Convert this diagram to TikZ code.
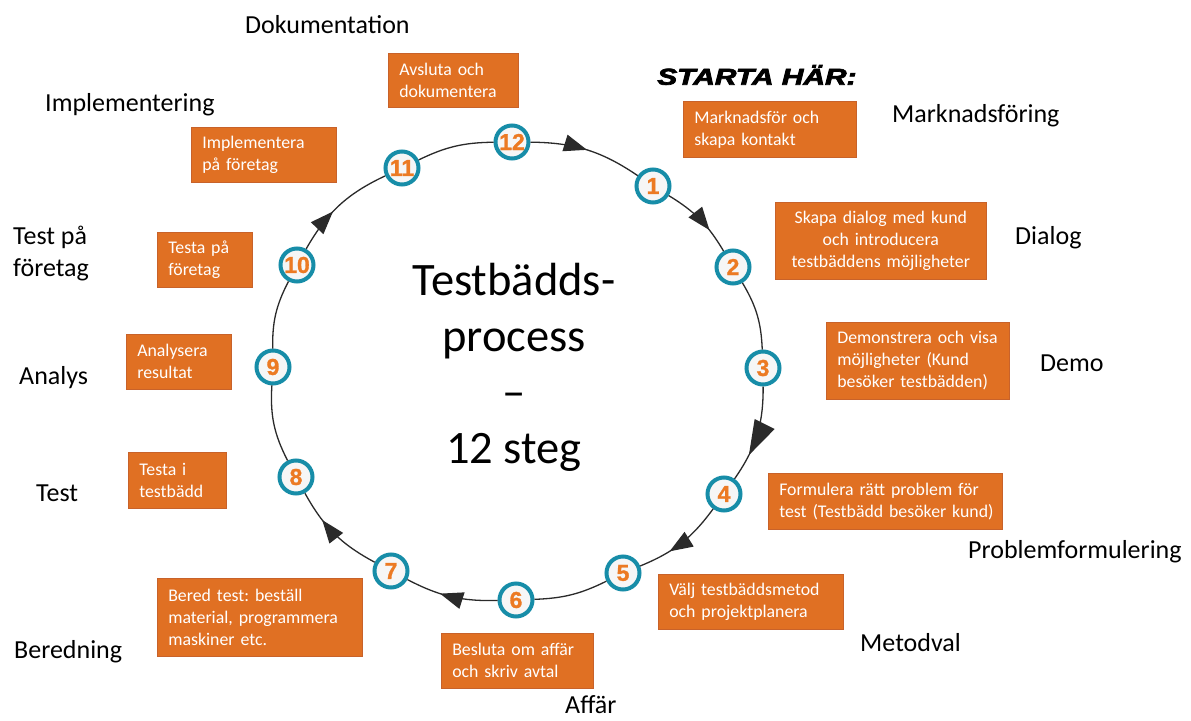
\documentclass[tikz,border=0pt]{standalone}
\usepackage{fontspec}
\setmainfont{Carlito}
\newfontfamily\numfont{Liberation Sans}[BoldFeatures={FakeBold=1.2}]
\newfontfamily\startfont{Liberation Sans}[BoldItalicFeatures={FakeBold=3}]
\usetikzlibrary{arrows.meta,decorations.markings}
\definecolor{oranj}{HTML}{E07023}
\definecolor{oborder}{HTML}{C8622A}
\definecolor{tealc}{HTML}{178DA8}
\definecolor{numor}{HTML}{EC7A23}
\definecolor{ringc}{HTML}{2A2A2A}
\newcommand\Ln[1]{\mbox{#1}}
\frenchspacing
\tikzset{
  obox/.style={draw=oborder, fill=oranj, line width=0.6pt, text=white,
    font=\fontsize{17.8}{22}\selectfont, inner xsep=11pt, inner ysep=0pt,
    align=left, anchor=north west},
  mk/.style={circle, draw=tealc, line width=4pt, fill=gray!7, minimum size=33pt,
    inner sep=0pt, text=numor, font=\numfont\bfseries\fontsize{23}{23}\selectfont},
  lbl/.style={inner sep=0pt, anchor=west, font=\fontsize{26}{32}\selectfont, text=black},
  ring/.style={draw=ringc, line width=1.3pt},
  midarr/.style={postaction={decorate}, decoration={markings,
    mark=at position #1 with {\arrow[ringc]{Triangle[length=23pt,width=17pt]}}}},
  bigarr/.style={postaction={decorate}, decoration={markings,
    mark=at position #1 with {\arrow[ringc]{Triangle[length=35pt,width=22pt]}}}}
}
\begin{document}
\begin{tikzpicture}[x=1pt,y=1pt]
\useasboundingbox (0,0) rectangle (1191,-720);
\fill[white] (0,0) rectangle (1191,-720);

% markers
\node[mk] (m12) at (512,-142) {12};
\node[mk] (m1) at (653,-186) {1};
\node[mk] (m2) at (733,-267) {2};
\node[mk] (m3) at (763,-368) {3};
\node[mk] (m4) at (724,-494) {4};
\node[mk] (m5) at (623,-573) {5};
\node[mk] (m6) at (516,-600) {6};
\node[mk] (m7) at (391,-571) {7};
\node[mk] (m8) at (296,-477) {8};
\node[mk] (m9) at (273,-367) {9};
\node[mk] (m10) at (297,-265) {10};
\node[mk] (m11) at (402,-168) {11};

% ring segments
\draw[ring, midarr=0.5] (m12) to[bend left=16.8] (m1);
\draw[ring, midarr=0.68] (m1) to[bend left=14] (m2);
\draw[ring] (m2) to[bend left=14.2] (m3);
\draw[ring, bigarr=0.72] (m3) to[bend left=17.6] (m4);
\draw[ring, midarr=0.65] (m4) to[bend left=15.8] (m5);
\draw[ring] (m5) to[bend left=12.1] (m6);
\draw[ring, midarr=0.62] (m6) to[bend left=14.5] (m7);
\draw[ring, midarr=0.68] (m7) to[bend left=16.4] (m8);
\draw[ring] (m8) to[bend left=15.3] (m9);
\draw[ring] (m9) to[bend left=14.2] (m10);
\draw[ring, midarr=0.42] (m10) to[bend left=17.6] (m11);
\draw[ring] (m11) to[bend left=12.6] (m12);

% center title
\node[align=center, inner sep=0pt, font=\fontsize{46.5}{56}\selectfont] (title) at (514,-367)
  {Testbädds-\\process\\–\\12 steg};

% start label
\node[inner sep=0pt, anchor=west, xscale=1.3, font=\startfont\bfseries\itshape\fontsize{23}{23}\selectfont] (start) at (657,-75) {STARTA HÄR:};

% boxes
\node[obox, text width=108pt, minimum height=54pt] (b12) at (388,-53) {\Ln{Avsluta och}\\\Ln{dokumentera}};
\node[obox, text width=123pt, minimum height=55pt] (b11) at (191,-127) {\Ln{Implementera}\\\Ln{på företag}};
\node[obox, text width=151pt, minimum height=56pt] (b1) at (683,-101) {\Ln{Marknadsför och}\\\Ln{skapa kontakt}};
\node[obox, text width=189pt, minimum height=77pt, align=center] (b2) at (775,-202) {\Ln{Skapa dialog med kund}\\\Ln{och introducera}\\\Ln{testbäddens möjligheter}};
\node[obox, text width=161pt, minimum height=77pt] (b3) at (826,-322) {\Ln{Demonstrera och visa}\\\Ln{möjligheter (Kund}\\\Ln{besöker testbädden)}};
\node[obox, text width=212pt, minimum height=56pt] (b4) at (768,-473) {\Ln{Formulera rätt problem för}\\\Ln{test (Testbädd besöker kund)}};
\node[obox, text width=163pt, minimum height=55pt] (b5) at (658,-574) {\Ln{Välj testbäddsmetod}\\\Ln{och projektplanera}};
\node[obox, text width=130pt, minimum height=55pt] (b6) at (441,-633) {\Ln{Besluta om affär}\\\Ln{och skriv avtal}};
\node[obox, text width=183pt, minimum height=78pt] (b7) at (157,-578) {\Ln{Bered test: beställ}\\\Ln{material, programmera}\\\Ln{maskiner etc.}};
\node[obox, text width=76pt, minimum height=56pt] (b8) at (128,-452) {\Ln{Testa i}\\\Ln{testbädd}};
\node[obox, text width=83pt, minimum height=55pt] (b9) at (126,-334) {\Ln{Analysera}\\\Ln{resultat}};
\node[obox, text width=73pt, minimum height=55pt] (b10) at (157,-232) {\Ln{Testa på}\\\Ln{företag}};

% phase labels
\node[lbl] (l12) at (245,-25) {Dokumentation};
\node[lbl] (l11) at (45,-105) {Implementering};
\node[lbl] (l1) at (892,-116) {Marknadsföring};
\node[lbl] (l2) at (1015,-238) {Dialog};
\node[lbl] (l3) at (1040,-363) {Demo};
\node[lbl] (l4) at (968,-552) {Problemformulering};
\node[lbl] (l5) at (860,-643) {Metodval};
\node[lbl] (l6) at (565,-705) {Affär};
\node[lbl] (l7) at (14,-652) {Beredning};
\node[lbl] (l8) at (36,-493) {Test};
\node[lbl] (l9) at (19,-378) {Analys};
\node[lbl, align=left] (l10) at (13,-254) {Test på\\företag};
\end{tikzpicture}
\end{document}
